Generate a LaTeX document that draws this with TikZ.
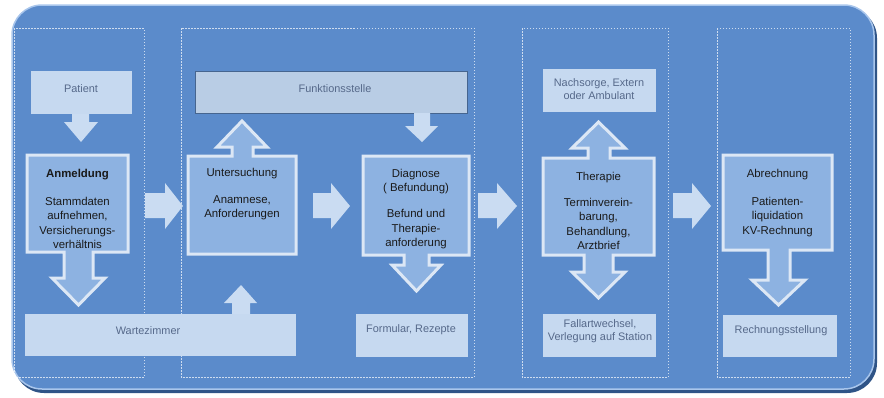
\documentclass[tikz,border=0pt]{standalone}
\usepackage{fontspec}
\setmainfont{Liberation Sans}
\definecolor{bg}{HTML}{5B8BCB}
\definecolor{framebd}{HTML}{A9C6EC}
\definecolor{frameshadow}{HTML}{2F5487}
\definecolor{mainfill}{HTML}{8DB2E1}
\definecolor{mainbd}{HTML}{DCE7F5}
\definecolor{lightfill}{HTML}{C6D9F0}
\definecolor{arrowfill}{HTML}{CADCF2}
\definecolor{funcfill}{HTML}{B9CDE5}
\definecolor{funcbd}{HTML}{46658F}
\definecolor{lighttextc}{HTML}{56698A}
\definecolor{maintextc}{HTML}{1A1A1A}
\begin{document}
\begin{tikzpicture}[x=1pt,y=-1pt,
  lane/.style={draw=white, draw opacity=0.7, dashed, dash pattern=on 1.5pt off 1.5pt, line width=0.5pt},
  lightbox/.style={fill=lightfill, draw=none, inner sep=0pt, anchor=north west},
  funcbox/.style={fill=funcfill, draw=funcbd, line width=0.8pt, inner sep=0pt, anchor=north west},
  lighttext/.style={text=lighttextc, font=\fontsize{10.9}{12.5}\selectfont, align=center, inner sep=0pt},
  mainshape/.style={fill=mainfill, draw=mainbd, line width=3pt, line join=miter},
  maintext/.style={text=maintextc, font=\fontsize{11.4}{14.2}\selectfont, align=center, inner sep=0pt, anchor=north},
  blockarrow/.style={fill=arrowfill, draw=none}
]
\useasboundingbox (0,0) rectangle (884,397);
% outer frame
\fill[frameshadow, rounded corners=30pt] (14,8) rectangle (877,393);
\draw[fill=bg, draw=framebd, line width=1.5pt, rounded corners=30pt] (12,5) rectangle (874,389);

% lanes
\draw[lane] (14,28) rectangle (144,377);
\draw[lane] (181,28) rectangle (474,377);
\draw[lane] (522,28) rectangle (668,377);
\draw[lane] (717,28) rectangle (850,377);

% light boxes
\node[lightbox, minimum width=101pt, minimum height=43pt] (patient) at (31,71) {};
\node[lighttext] (patientT) at (81,89) {Patient};
\node[funcbox, minimum width=272pt, minimum height=42pt] (funk) at (195,71) {};
\node[lighttext] (funkT) at (335,89) {Funktionsstelle};
\node[lightbox, minimum width=271pt, minimum height=42pt] (warte) at (25,314) {};
\node[lighttext] (warteT) at (148,331) {Wartezimmer};
\node[lightbox, minimum width=112pt, minimum height=43pt] (formular) at (356,314) {};
\node[lighttext] (formularT) at (411,330) {Formular, Rezepte};
\node[lightbox, minimum width=113pt, minimum height=43pt] (nachsorge) at (543,69) {};
\node[lighttext] (nachsorgeT) at (599,89) {Nachsorge, Extern\\oder Ambulant};
\node[lightbox, minimum width=113pt, minimum height=43pt] (fallart) at (543,314) {};
\node[lighttext] (fallartT) at (600,331) {Fallartwechsel,\\Verlegung auf Station};
\node[lightbox, minimum width=114pt, minimum height=42pt] (rechnung) at (723,315) {};
\node[lighttext] (rechnungT) at (781,331) {Rechnungsstellung};

% small block arrows
\fill[blockarrow] (72,114) -- (89,114) -- (89,122) -- (98,122) -- (81,142) -- (64,122) -- (72,122) -- cycle;
\fill[blockarrow] (414,113) -- (430,113) -- (430,126) -- (438,126) -- (422,142) -- (405,126) -- (414,126) -- cycle;
\fill[blockarrow] (232,314) -- (250,314) -- (250,303) -- (257,303) -- (241,285) -- (224,303) -- (232,303) -- cycle;

% horizontal block arrows
\foreach \xa/\xb/\xc in {145/165/183, 313/331/350, 478/497/517, 673/692/711}{
  \fill[blockarrow] (\xa,193) -- (\xb,193) -- (\xb,183) -- (\xc,206) -- (\xb,229) -- (\xb,218) -- (\xa,218) -- cycle;
}

% main boxes with attached arrows
\draw[mainshape] (27,155) -- (128,155) -- (128,252) -- (93,252) -- (93,278) -- (105,278) -- (78.5,305) -- (52,278) -- (64,278) -- (64,252) -- (27,252) -- cycle;
\node[maintext] (anm) at (77.5,169) {\textbf{Anmeldung}\\[14pt]Stammdaten\\aufnehmen,\\Versicherungs-\\verhältnis};

\draw[mainshape] (188,156) -- (232,156) -- (232,147) -- (217,147) -- (242,121) -- (267,147) -- (253,147) -- (253,156) -- (296,156) -- (296,254) -- (188,254) -- cycle;
\node[maintext] (unt) at (242,168) {Untersuchung\\[13pt]Anamnese,\\Anforderungen};

\draw[mainshape] (363,156) -- (469,156) -- (469,255) -- (429,255) -- (429,265) -- (441,265) -- (416.5,291) -- (392,265) -- (404,265) -- (404,255) -- (363,255) -- cycle;
\node[maintext] (diag) at (416,169) {Diagnose\\( Befundung)\\[12pt]Befund und\\Therapie-\\anforderung};

\draw[mainshape] (543,158) -- (588,158) -- (588,148) -- (572,148) -- (598.5,122) -- (625,148) -- (610,148) -- (610,158) -- (654,158) -- (654,255) -- (613,255) -- (613,272) -- (625,272) -- (598.5,298) -- (572,272) -- (584,272) -- (584,255) -- (543,255) -- cycle;
\node[maintext] (ther) at (598.5,172) {Therapie\\[12pt]Terminverein-\\barung,\\Behandlung,\\Arztbrief};

\draw[mainshape] (723,155) -- (832,155) -- (832,250) -- (790,250) -- (790,280) -- (805,280) -- (778.5,305) -- (752,280) -- (768,280) -- (768,250) -- (723,250) -- cycle;
\node[maintext] (abr) at (777.5,169) {Abrechnung\\[14pt]Patienten-\\liquidation\\KV-Rechnung};
\end{tikzpicture}
\end{document}
